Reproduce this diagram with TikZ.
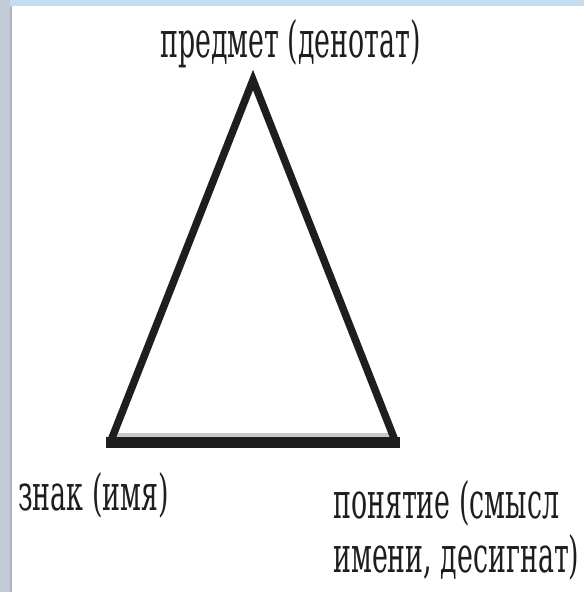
\documentclass[tikz,border=0pt]{standalone}
\usepackage{fontspec}
\setmainfont{DejaVu Serif}
\newcommand{\narrowtxt}[1]{\scalebox{0.537}[1]{#1}}
\definecolor{topband}{HTML}{C5DCEF}
\definecolor{leftband}{HTML}{C3CCD6}
\definecolor{leftedge}{HTML}{A9B6C4}
\definecolor{shadowgray}{HTML}{C8C8C8}
\definecolor{ink}{HTML}{1E1E1E}
\tikzset{
  lbl/.style={inner sep=0pt, text=ink, font=\rmfamily\fontsize{50}{54}\selectfont},
  side/.style={draw=ink, line width=7.5pt, line join=miter},
  basebar/.style={draw=ink, line width=11pt, line cap=butt},
}
\begin{document}
\begin{tikzpicture}[x=1pt,y=-1pt]
\useasboundingbox (0,0) rectangle (584,592);
\fill[white] (0,0) rectangle (584,592);
% window bands
\fill[topband] (0,0) rectangle (584,5.5);
\fill[leftband] (0,0) rectangle (9.5,592);
\fill[leftedge] (9.5,5.5) rectangle (12,592);
% vertices
\coordinate (apex) at (253,80);
\coordinate (bl) at (110,443);
\coordinate (br) at (396,443);
\coordinate (bll) at (106,442.5);
\coordinate (brr) at (400,442.5);
\coordinate (sl) at (115,435);
\coordinate (sr) at (392,435);
% triangle
\draw[shadowgray, line width=3.5pt] (sl) -- (sr);
\draw[side] (bl) -- (apex) -- (br);
\draw[basebar] (bll) -- (brr);
% labels
\node[lbl, anchor=base] (denotat) at (290.5,57) {\narrowtxt{предмет (денотат)}};
\node[lbl, anchor=base] (znak) at (93.5,510) {\narrowtxt{знак (имя)}};
\node[lbl, anchor=base west] (ponyatie) at (333,518)
  {\narrowtxt{\begin{tabular}[t]{@{}l@{}}понятие (смысл\\имени, десигнат)\end{tabular}}};
\end{tikzpicture}
\end{document}
